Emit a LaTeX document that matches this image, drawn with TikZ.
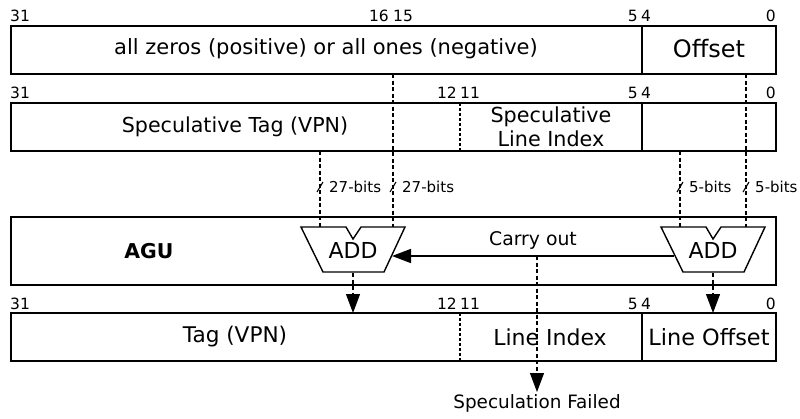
\documentclass[tikz,border=0pt]{standalone}
\usepackage{fontspec}
\setmainfont{DejaVu Sans}
\usetikzlibrary{arrows.meta}

\newcommand\addshape[1]{%
  \draw[line width=1.4pt,line join=miter] ([shift={(-52,-23)}]#1.center) -- ++(45,0) -- ++(7,12) -- ++(8,-12) -- ++(44,0)
    -- ++(-21,45) -- ++(-61,0) -- cycle;}
\newcommand\fs[1]{\fontsize{#1}{1.15\dimexpr#1pt\relax}\selectfont}

\begin{document}
\begin{tikzpicture}[x=1pt,y=-1pt,>={Triangle[length=19pt,width=14pt]},
  field/.style={draw,line width=1.4pt,inner sep=0,outer sep=0,anchor=north west,minimum height=48pt},
  label/.style={font=\fs{21}},
  bitnum/.style={font=\fs{15.5},inner sep=0},
  width/.style={font=\fs{15},inner sep=0,anchor=west},
  bus/.style={line width=1.1pt,dash pattern=on 4pt off 2.5pt},
  sig/.style={line width=1.6pt}]
\useasboundingbox (0,0) rectangle (800,418);

% virtual address
\node[field,minimum width=631pt] (zeros) at (11,26) {};
\node[field,minimum width=134pt] (off) at (642,26) {};
\node[label] (zt) at (326,49) {all zeros (positive) or all ones (negative)};
\node[label,font=\fs{24}] (ot) at (709,49) {Offset};
\node[bitnum,anchor=west] (z31) at (10,16) {31};
\node[bitnum,anchor=east] (z16) at (389,16) {16};
\node[bitnum,anchor=west] (z15) at (393,16) {15};
\node[bitnum,anchor=east] (z5) at (638,16) {5};
\node[bitnum,anchor=west] (z4) at (641,16) {4};
\node[bitnum,anchor=east] (z0) at (776,16) {0};

% speculative address
\node[field,minimum width=631pt] (spec) at (11,103) {};
\node[field,minimum width=134pt] (soff) at (642,103) {};
\coordinate (s12) at (460,103);
\node[label,font=\fs{20.6}] (st) at (235,127) {Speculative Tag (VPN)};
\node[label,align=center,font=\fontsize{20.7}{24}\selectfont] (si) at (551,127) {Speculative\\Line Index};
\node[bitnum,anchor=west] (s31) at (10,93) {31};
\node[bitnum,anchor=east] (s12l) at (457,93) {12};
\node[bitnum,anchor=west] (s11) at (460,93) {11};
\node[bitnum,anchor=east] (s5) at (638,93) {5};
\node[bitnum,anchor=west] (s4) at (641,93) {4};
\node[bitnum,anchor=east] (s0) at (776,93) {0};

% agu
\node[field,minimum width=765pt,minimum height=68pt] (agu) at (11,217) {};
\node[font=\fs{20.4}\bfseries] (agut) at (149,251) {AGU};
\node[label,font=\fs{22}] (addL) at (353,250) {ADD};
\node[label,font=\fs{22}] (addR) at (713,250) {ADD};
\addshape{addL}
\addshape{addR}

% physical address
\node[field,minimum width=631pt] (phys) at (11,313) {};
\node[field,minimum width=134pt] (poff) at (642,313) {};
\coordinate (p12) at (460,313);
\node[label,font=\fs{21.6}] (pt) at (235,337) {Tag (VPN)};
\node[label,font=\fs{22}] (pi) at (550,337) {Line Index};
\node[label,font=\fs{22.4}] (po) at (709,337) {Line Offset};
\node[bitnum,anchor=west] (p31) at (10,304) {31};
\node[bitnum,anchor=east] (p12l) at (457,304) {12};
\node[bitnum,anchor=west] (p11) at (460,304) {11};
\node[bitnum,anchor=east] (p5) at (638,304) {5};
\node[bitnum,anchor=west] (p4) at (641,304) {4};
\node[bitnum,anchor=east] (p0) at (776,304) {0};

\draw[line width=1.1pt,dash pattern=on 3pt off 2pt] (s12) -- (s12 |- spec.south);
\draw[line width=1.1pt,dash pattern=on 3pt off 2pt] (p12) -- (p12 |- phys.south);

% adder inputs
\coordinate (inA) at (320,227);
\coordinate (inB) at (393,227);
\coordinate (inC) at (680,227);
\coordinate (inD) at (746,227);
\draw[bus] (spec.south -| inA) -- (inA);
\draw[bus] (zeros.south -| inB) -- (inB);
\draw[bus] (soff.south -| inC) -- (inC);
\draw[bus] (off.south -| inD) -- (inD);

\foreach \w/\t in {inA/27-bits,inB/27-bits,inC/5-bits,inD/5-bits}{
  \coordinate (\w-m) at (\w |- 0,187);
  \draw[line width=1.1pt] ([shift={(-3,5)}]\w-m) -- ([shift={(3,-5)}]\w-m);
  \node[width] at ([xshift=9pt]\w-m) {\t};
}

% carry out
\coordinate (coR) at (674,256);
\coordinate (coL) at (392,256);
\coordinate (fork) at (537,256);
\draw[sig,->] (coR) -- (coL);
\node[font=\fs{18.8}] (cot) at (533,240) {Carry out};
\node[font=\fs{18.4},inner sep=2.5pt,anchor=north] (fail) at (537,392) {Speculation Failed};
\draw[bus,->] (fork) -- (fail.north);

% adder outputs
\coordinate (outL) at (353,273);
\coordinate (outR) at (713,273);
\draw[bus,->] (outL) -- (outL |- phys.north);
\draw[bus,->] (outR) -- (outR |- poff.north);
\end{tikzpicture}
\end{document}
